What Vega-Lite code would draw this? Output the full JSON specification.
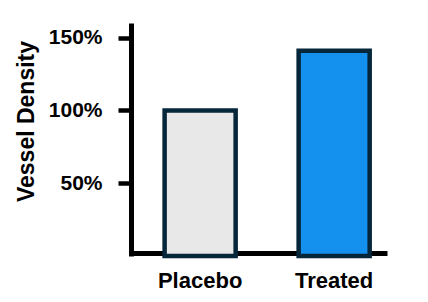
{
  "$schema": "https://vega.github.io/schema/vega-lite/v6.json",
  "width": 256,
  "height": 233,
  "autosize": "none",
  "padding": {"left": 131, "top": 23, "right": 41, "bottom": 46},
  "background": "white",
  "config": {"view": {"stroke": null}, "font": "Liberation Sans"},
  "data": {"values": [
    {"group": "Placebo", "value": 1.0},
    {"group": "Treated", "value": 1.41}
  ]},
  "mark": {"type": "bar", "stroke": "#06263a", "strokeWidth": 4.5},
  "encoding": {
    "x": {
      "field": "group", "type": "nominal", "sort": null,
      "scale": {"paddingInner": 0.47, "paddingOuter": 0.19, "align": 0.66},
      "axis": {
        "title": null, "labelAngle": 0, "ticks": false,
        "domainColor": "black", "domainWidth": 5, "offset": -3,
        "labelFont": "Liberation Sans", "labelFontSize": 22, "labelFontWeight": "bold",
        "labelColor": "black", "labelPadding": 17
      }
    },
    "y": {
      "field": "value", "type": "quantitative",
      "scale": {"domain": [0, 1.6], "nice": false, "zero": true},
      "axis": {
        "values": [0.5, 1, 1.5], "format": ".0%", "grid": false,
        "domainColor": "black", "domainWidth": 5,
        "tickColor": "black", "tickWidth": 4.5, "tickSize": 13,
        "labelFont": "Liberation Sans", "labelFontSize": 21, "labelFontWeight": "bold",
        "labelColor": "black", "labelPadding": 16,
        "title": "Vessel Density",
        "titleFont": "Liberation Sans", "titleFontSize": 23, "titleFontWeight": "bold",
        "titleColor": "black", "titleAngle": -90,
        "titleX": -98, "titleY": 98, "titleAlign": "center", "titleBaseline": "alphabetic"
      }
    },
    "fill": {
      "field": "group", "type": "nominal",
      "scale": {"domain": ["Placebo", "Treated"], "range": ["#e8e8e8", "#1490ee"]},
      "legend": null
    }
  }
}
